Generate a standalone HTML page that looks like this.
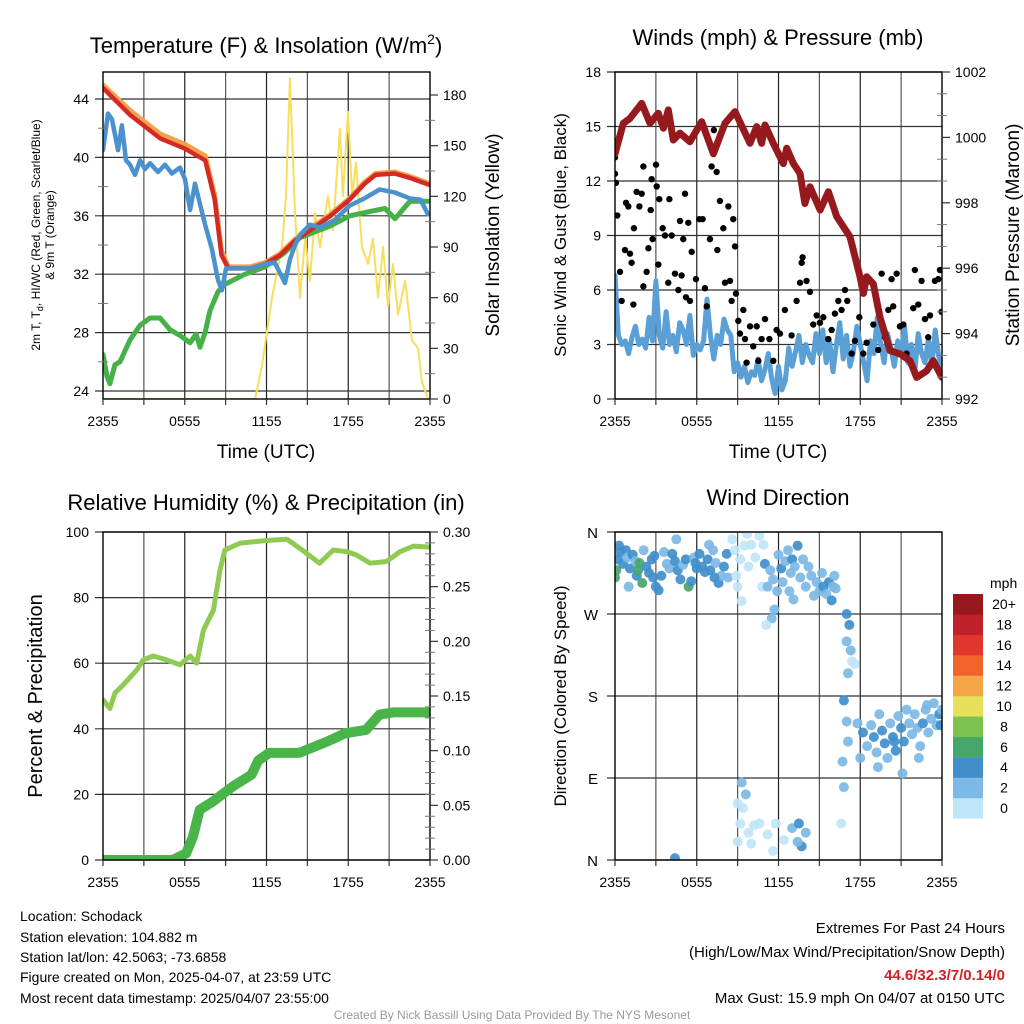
<!DOCTYPE html>
<html><head><meta charset="utf-8"><style>
body{margin:0;background:#fff;}
svg{display:block;font-family:"Liberation Sans",Arial,sans-serif;}
</style></head><body>
<svg id="chart" width="1024" height="1024" viewBox="0 0 1024 1024" xmlns="http://www.w3.org/2000/svg">
<rect width="1024" height="1024" fill="#fff"/>
<defs>
<clipPath id="c1"><rect x="103" y="72" width="327" height="327"/></clipPath>
<clipPath id="c2"><rect x="615" y="72" width="327" height="327"/></clipPath>
<clipPath id="c3"><rect x="103" y="532" width="327" height="328"/></clipPath>
<clipPath id="c4"><rect x="615" y="532" width="327" height="328"/></clipPath>
</defs>
<g id="grids"></g>
<g id="marks"></g>
<g id="axes"></g>
<g id="texts" font-size="14" fill="#000">
<text x="266" y="53" font-size="22" text-anchor="middle">Temperature (F) &amp; Insolation (W/m<tspan font-size="14" dy="-9">2</tspan><tspan dy="9">)</tspan></text>
<text x="778" y="45" font-size="22" text-anchor="middle">Winds (mph) &amp; Pressure (mb)</text>
<text x="266" y="510" font-size="22" text-anchor="middle">Relative Humidity (%) &amp; Precipitation (in)</text>
<text x="778" y="505" font-size="22" text-anchor="middle">Wind Direction</text>
<text x="266" y="458" font-size="19" text-anchor="middle">Time (UTC)</text>
<text x="778" y="458" font-size="19" text-anchor="middle">Time (UTC)</text>
<g transform="translate(40,235) rotate(-90)" font-size="12" text-anchor="middle">
<text x="0" y="0">2m T, T<tspan font-size="9" dy="3">d</tspan><tspan dy="-3">, HI/WC (Red, Green, Scarlet/Blue)</tspan></text>
<text x="0" y="14">&amp; 9m T (Orange)</text></g>
<text transform="translate(499,235) rotate(-90)" font-size="19" text-anchor="middle">Solar Insolation (Yellow)</text>
<text transform="translate(566,235) rotate(-90)" font-size="17" text-anchor="middle">Sonic Wind &amp; Gust (Blue, Black)</text>
<text transform="translate(1019,235) rotate(-90)" font-size="19" text-anchor="middle">Station Pressure (Maroon)</text>
<text transform="translate(42,696) rotate(-90)" font-size="20" text-anchor="middle">Percent &amp; Precipitation</text>
<text transform="translate(566,696) rotate(-90)" font-size="17" text-anchor="middle">Direction (Colored By Speed)</text>
<g font-size="14">
<text x="20" y="921">Location: Schodack</text>
<text x="20" y="942">Station elevation: 104.882 m</text>
<text x="20" y="962">Station lat/lon: 42.5063; -73.6858</text>
<text x="20" y="982">Figure created on Mon, 2025-04-07, at 23:59 UTC</text>
<text x="20" y="1003">Most recent data timestamp: 2025/04/07 23:55:00</text>
</g>
<g font-size="15" text-anchor="end">
<text x="1005" y="933">Extremes For Past 24 Hours</text>
<text x="1005" y="957">(High/Low/Max Wind/Precipitation/Snow Depth)</text>
<text x="1005" y="980" fill="#d42027" font-weight="bold">44.6/32.3/7/0.14/0</text>
<text x="1005" y="1003">Max Gust: 15.9 mph On 04/07 at 0150 UTC</text>
</g>
<text x="512" y="1019" font-size="12" fill="#999" text-anchor="middle">Created By Nick Bassill Using Data Provided By The NYS Mesonet</text>
<text x="990" y="588" font-size="14">mph</text>
</g>
</svg>
<script>
// ---------- data ----------
const xTickLabels = ["2355","0555","1155","1755","2355"];
const tempTicks = [24,28,32,36,40,44];
const solarTicks = [0,30,60,90,120,150,180];
const windTicks = [0,3,6,9,12,15,18];
const presTicks = [992,994,996,998,1000,1002];
const rhTicks = [0,20,40,60,80,100];
const precipTicks = ["0.00","0.05","0.10","0.15","0.20","0.25","0.30"];
const dirLabels = ["N","E","S","W","N"];
const speedBinLabels = ["0","2","4","6","8","10","12","14","16","18","20+"];

const redHours = [0,2,4.2,6,7.5,8.2,8.7,9.2,10.8,11.9,13,14.1,15.2,16.7,18.1,19.2,20,21.4,22.5,24];
const redTemp = [44.75,42.9,41.3,40.6,39.8,37.1,33.3,32.4,32.4,32.7,33.3,34.3,35,36,37.1,38.2,38.8,38.9,38.6,38.1];
const orangeTemp = [44.95,43.2,41.6,40.9,40.1,37.4,33.6,32.5,32.5,32.8,33.4,34.4,35.1,36.1,37.2,38.3,38.9,39.0,38.7,38.2];
const wcHours = [0,0.37,0.66,1.1,1.39,1.69,1.98,2.35,2.72,3.08,3.45,4.04,4.55,5.06,5.65,6.02,6.39,6.75,7.12,7.49,8.0,8.44,8.73,9.03,10.8,11.9,12.6,13.36,13.72,14.09,14.46,15.2,15.9,17.0,18.1,19.2,20.3,21.4,22.5,23.3,23.85];
const wcTemp = [40.5,43,42.6,40.5,42.2,39.8,39.5,38.8,39.8,39.2,39.6,39,39.5,38.9,39.3,38.5,36.4,38.2,36.8,35.4,33.7,31.6,30.9,32.4,32.4,32.7,32.8,31.4,33,34,34.7,35.4,35.2,35.7,36.7,37.2,37.8,37.6,37.2,37.1,36.1];
const dewHours = [0,0.29,0.51,0.88,1.25,1.98,2.72,3.45,4.18,4.55,4.92,5.65,6.39,6.83,7.12,7.49,7.85,8.44,8.95,10.42,11.89,13.36,14.46,16.66,18.13,19.6,20.7,21.43,22.53,23.85];
const dewTemp = [26.5,25.0,24.5,25.8,26.0,27.5,28.5,29.0,29.0,28.6,28.2,27.8,27.3,27.9,27.0,28.0,29.5,30.8,31.3,32.0,32.5,33.5,34.5,35.3,36.0,36.3,36.5,35.8,37.0,37.0];
const solarHours = [0,11.16,11.67,12.4,13.14,13.43,13.72,14.09,14.46,14.83,15.19,15.56,15.93,16.51,16.88,17.39,17.61,17.98,18.28,18.57,19.0,19.45,19.82,20.18,20.55,20.92,21.28,21.65,22.17,22.68,23.12,23.41,23.85];
const solarValues = [0,0,20,60,90,120,190,110,60,95,70,110,90,120,100,160,120,170,120,140,90,80,95,60,90,55,80,50,70,35,30,10,0];

const windSpeed = [6.8,3.5,3.0,3.2,2.5,3.4,4.0,3.0,3.3,2.8,4.5,3.2,6.5,3.5,2.8,4.8,3.0,3.5,2.6,4.2,3.8,3.0,4.6,2.4,3.0,2.7,3.2,5.5,3.5,2.2,3.5,3.0,4.4,3.8,
 3.5,1.5,2.0,1.2,1.8,0.9,1.5,1.3,2.2,1.0,1.6,2.5,1.1,0.3,1.8,0.5,1.0,2.8,1.8,2.6,3.5,2.0,3.0,2.4,2.0,3.6,
 2.5,3.8,2.0,3.2,1.5,3.0,4.2,2.2,3.5,1.8,2.6,4.0,3.0,2.0,1.0,3.2,2.5,4.5,3.0,2.0,3.6,2.8,1.8,3.2,2.4,4.0,2.0,3.0,1.5,3.6,2.5,2.0,3.3,1.8,3.8,2.4,1.6];
const windStepHours = 0.25;
const gustHours = [0,0,0.07,0.17,0.37,0.49,0.73,0.81,0.98,1.10,1.22,1.35,1.39,1.59,1.79,1.96,2.08,2.08,2.32,2.45,2.62,2.69,2.76,3.01,3.06,3.18,3.25,3.50,3.67,3.91,3.99,4.16,4.40,4.65,4.77,4.89,5.01,5.14,5.21,5.38,5.50,5.63,5.94,6.19,6.43,6.60,6.73,6.97,7.09,7.26,7.46,7.51,7.70,7.95,8.07,8.32,8.44,8.56,8.68,8.81,8.88,9.05,9.17,9.42,9.54,9.66,9.91,10.15,10.40,10.52,10.76,11.01,11.33,11.62,11.86,12.11,12.47,12.96,13.33,13.58,13.70,13.77,14.06,14.31,14.55,14.80,15.04,15.29,15.65,15.90,16.14,16.39,16.63,16.88,17.05,17.37,17.61,17.93,18.22,18.47,18.96,19.32,19.57,19.81,20.06,20.30,20.42,20.67,20.91,21.16,21.40,21.89,22.01,22.26,22.50,22.75,22.99,23.12,23.48,23.73,23.85,23.97];
const gustSpeed = [13.3,12.4,11.9,10.1,7.0,5.4,8.2,10.8,10.6,8.0,7.5,5.2,9.4,11.4,10.6,11.3,12.8,6.2,7.0,8.3,10.4,12.1,8.8,12.9,11.7,7.4,11.0,9.4,9.0,6.4,11.0,9.0,6.9,6.0,9.8,6.8,8.8,11.3,5.6,9.7,5.4,8.1,6.6,9.9,9.9,6.1,5.1,8.8,12.8,14.8,12.5,8.2,10.9,9.4,6.4,10.6,6.5,5.4,9.9,8.4,5.8,4.3,3.6,4.9,3.3,2.0,4.0,2.9,4.0,2.1,3.3,4.4,3.3,2.1,3.8,3.6,4.9,3.5,5.4,6.4,7.5,7.8,6.5,5.9,4.1,4.6,4.2,4.5,3.3,3.8,4.7,5.4,4.9,6.0,5.4,2.5,3.2,4.5,2.5,3.1,4.1,2.7,6.9,3.4,4.9,6.6,5.1,6.9,4.0,4.1,2.5,5.0,7.1,5.2,6.5,4.4,3.4,4.6,6.5,6.6,7.1,4.8];
const presHours = [0,0.61,1.1,1.96,2.57,3.18,3.55,3.91,4.28,4.77,5.5,6.36,7.22,8.07,8.81,9.91,10.4,10.76,11.01,11.62,12.35,12.6,13.09,13.58,13.94,14.31,15.05,15.66,16.27,17.25,17.98,18.23,18.47,18.96,19.45,20.18,20.92,21.65,22.14,22.87,23.36,24];
const presValues = [999.5,1000.43,1000.58,1001.04,1000.43,1000.74,1000.28,1000.84,999.92,1000.13,999.87,1000.48,999.5,1000.43,1000.79,999.82,1000.33,999.82,1000.38,999.82,999.2,999.67,999.2,998.9,997.98,998.49,997.78,998.34,997.58,996.96,995.74,995.23,995.74,995.52,994.5,993.48,993.38,993.17,992.66,992.86,993.17,992.66];

const rhHours = [0,0.51,0.88,1.49,2.47,2.96,3.69,4.67,5.65,6.39,6.88,7.37,8.1,8.59,8.95,10.05,12.0,13.5,14.46,15.9,16.9,17.9,18.6,19.6,20.8,21.8,22.8,24];
const rhValues = [48.8,46.2,50.9,53.4,57.9,61,62.2,61,59.5,62.2,60,70.1,76.2,88.4,94.5,96.6,97.4,97.8,95,90.5,94.5,94,93,90.5,91,94,95.7,95.4];
const precipHours = [0,5.1,6.1,6.6,7.1,8.0,9.5,10.9,11.4,12.2,14.4,16.4,17.8,19.3,20.3,21.3,24];
const precipValues = [0,0,0.006,0.021,0.046,0.053,0.067,0.078,0.091,0.098,0.098,0.108,0.116,0.119,0.133,0.135,0.135];

const dirHours = [0.0,0.1,0.2,0.4,0.6,0.8,0.9,1.1,1.3,1.5,1.6,1.7,1.8,2.0,2.1,2.3,2.5,2.7,2.9,3.0,3.2,3.4,3.6,3.8,4.0,4.2,4.4,4.6,4.8,5.0,5.2,5.4,5.6,5.8,6.0,6.2,6.4,6.6,6.8,7.0,7.2,7.4,7.6,7.8,8.0,8.2,8.3,0.3,1.0,2.8,4.5,5.9,6.9,7.3,
8.6,8.8,9.2,9.5,9.7,10.0,10.3,10.6,8.9,9.3,10.8,9.0,10.9,9.8,
11.0,11.2,11.4,11.6,11.7,11.9,12.0,12.2,12.3,12.5,12.7,12.9,13.0,13.2,13.4,13.6,13.8,14.0,14.2,14.4,14.6,14.8,15.0,15.2,15.3,15.5,15.7,15.9,11.5,11.1,16.0,16.1,16.2,13.1,12.8,
17.0,17.2,17.0,17.3,17.4,17.1,16.8,17.0,17.1,16.7,16.8,16.6,17.6,
17.8,18.2,18.5,18.8,19.0,19.2,19.4,19.6,19.8,20.0,20.2,20.4,20.6,20.8,21.0,21.2,21.4,21.6,21.8,22.0,22.2,22.4,22.6,22.8,23.0,23.2,23.4,23.6,23.8,24.0,21.1,22.3,19.3,20.5,23.9,18.0,22.9,
4.4,9.0,9.2,9.4,9.6,9.3,9.0,9.8,10.0,10.2,10.6,11.2,11.6,11.8,12.4,13.0,13.5,13.7,14.0,13.4];
const dirDegrees = [310,318,330,338,325,340,332,320,335,328,312,318,326,304,340,322,315,330,334,300,296,312,338,325,320,336,328,318,308,324,330,300,306,332,320,336,322,316,330,318,340,326,304,312,322,336,310,345,300,310,352,326,346,310,
352,340,330,345,358,346,332,356,312,284,300,300,346,322,
325,300,318,308,275,295,335,320,305,328,340,315,330,322,345,310,330,300,322,312,290,305,295,315,300,292,305,285,265,258,300,312,298,286,295,
270,258,240,230,218,205,175,152,130,108,80,40,215,
150,140,125,148,135,118,160,142,128,112,150,135,120,158,145,130,165,150,138,160,145,125,150,165,140,155,172,148,160,165,95,112,102,130,148,112,170,
2,20,40,57,72,85,62,30,18,38,40,28,10,40,22,35,40,15,30,20];
const dirSpeed = [6,6,5,4,4,5,3,4,5,3,4,6,6,6,3,4,5,5,4,5,5,4,3,3,3,5,4,4,5,3,4,6,5,3,4,4,5,5,4,5,3,3,4,3,4,5,3,4,3,4,3,5,3,5,
1,1,1,1,1,1,1,1,1,1,1,1,1,1,
4,3,3,3,3,3,3,4,3,3,3,3,4,3,4,3,3,3,3,3,3,3,3,3,4,3,5,5,2,1,2,2,2,3,3,
4,4,3,2,1,2,4,3,3,3,2,1,1,
3,4,3,3,4,3,3,4,4,3,3,4,4,3,4,4,3,3,3,3,3,3,4,3,3,3,3,3,4,3,3,3,3,5,4,2,3,
4,1,1,1,2,2,1,1,1,1,1,1,1,1,1,2,4,4,2,3];
const speedColors = ["#bfe5f8","#7cb9e5","#408fcb","#46a66a","#7bc24f","#e7e05c","#f6a646","#f0642b","#e0362b","#c0202a","#961a1d"];

// ---------- helpers ----------
const NS = "http://www.w3.org/2000/svg";
const grids = document.getElementById('grids');
const marks = document.getElementById('marks');
const axes = document.getElementById('axes');
function mk(tag, attrs, parent){ const e=document.createElementNS(NS,tag); for(const k in attrs) e.setAttribute(k,attrs[k]); parent.appendChild(e); return e; }
function lin(d0,d1,r0,r1){ return v => r0 + (v-d0)/(d1-d0)*(r1-r0); }
function pathD(xs, ys, fx, fy){ return xs.map((h,i)=>(i?'L':'M')+fx(h).toFixed(1)+','+fy(ys[i]).toFixed(1)).join(''); }

const panels = [
 {x:103,y:72,w:327,h:327},{x:615,y:72,w:327,h:327},
 {x:103,y:532,w:327,h:328},{x:615,y:532,w:327,h:328}];
const X = panels.map(p => lin(0,24,p.x,p.x+p.w));

const yT = lin(24,44,391,99);
const yS = lin(0,180,399,95);
const yW = lin(0,18,399,72);
const yP = lin(992,1002,399,72);
const yRH = lin(0,100,860,532);
const yPr = lin(0,0.3,860,532);
const yD = lin(0,360,860,532);

panels.forEach((p,pi)=>{
  const g = mk('g',{},grids);
  
  
  for(let k=1;k<8;k++){ const x=p.x+p.w*k/8; mk('line',{x1:x,y1:p.y,x2:x,y2:p.y+p.h,stroke:(k%2?'#555':'#222'),'stroke-width':1.2},g); }
  const a = mk('g',{},axes);
  
  
  mk('rect',{x:p.x,y:p.y,width:p.w,height:p.h,fill:'none',stroke:'#000','stroke-width':1.4},a);
  for(let k=0;k<=8;k++){ const x=p.x+p.w*k/8; mk('line',{x1:x,y1:p.y+p.h,x2:x,y2:p.y+p.h+6,stroke:'#333','stroke-width':1.2},a); }
  xTickLabels.forEach((t,i)=>{
    const tx = mk('text',{x:X[pi](i*6),y:p.y+p.h+27,'font-size':14,'text-anchor':'middle'},a);
    
    
    tx.textContent=t;
  });
});
function hgrid(p, vals, fy, color){ vals.forEach(v=>{ mk('line',{x1:p.x-8,y1:fy(v),x2:p.x+p.w,y2:fy(v),stroke:color||'#333','stroke-width':1.2},grids); }); }
function leftLabels(p, vals, fy, dx){ vals.forEach(v=>{ const t=mk('text',{x:p.x-(dx||14),y:fy(v)+5,'font-size':14,'text-anchor':'end'},axes);
  
  
  t.textContent=v; }); }
function rightAxis(p, vals, fy, labels, minorPer){ vals.forEach((v,i)=>{ mk('line',{x1:p.x+p.w,y1:fy(v),x2:p.x+p.w+8,y2:fy(v),stroke:'#333','stroke-width':1.2},axes);
  const t=mk('text',{x:p.x+p.w+13,y:fy(v)+5,'font-size':14},axes);
  
  
  t.textContent=labels?labels[i]:v;
  if(i<vals.length-1){ for(let m=1;m<minorPer;m++){ const yy=fy(v)+(fy(vals[i+1])-fy(v))*m/minorPer; mk('line',{x1:p.x+p.w-5,y1:yy,x2:p.x+p.w+5,y2:yy,stroke:'#777','stroke-width':1},axes);} } }); }

hgrid(panels[0], tempTicks, yT);
leftLabels(panels[0], tempTicks, yT);
tempTicks.slice(0,-1).forEach(v=>mk('line',{x1:98,y1:yT(v+2),x2:108,y2:yT(v+2),stroke:'#777'},axes));
rightAxis(panels[0], solarTicks, yS, null, 2);
hgrid(panels[1], windTicks, yW);
leftLabels(panels[1], windTicks, yW);
rightAxis(panels[1], presTicks, yP, null, 3);
hgrid(panels[2], rhTicks, yRH);
leftLabels(panels[2], rhTicks, yRH);
rightAxis(panels[2], [0,0.05,0.1,0.15,0.2,0.25,0.3], yPr, precipTicks, 5);
hgrid(panels[3], [0,90,180,270,360], yD);
[0,90,180,270,360].forEach((v,i)=>{ const t=mk('text',{x:598,y:yD(v)+6,'font-size':15,'text-anchor':'end'},axes);
  
  
  t.textContent=dirLabels[i]; });

function series(name, clip, xs, ys, fx, fy, color, w){
  const e = mk('path',{d:pathD(xs,ys,fx,fy),fill:'none',stroke:color,'stroke-width':w,'stroke-linejoin':'round','stroke-linecap':'round','clip-path':'url(#'+clip+')'},marks);
  
  
}
series('solar-line','c1',solarHours,solarValues,X[0],yS,'#f7df5c',2);
series('dewpoint-line','c1',dewHours,dewTemp,X[0],yT,'#46b147',5);
series('temp-9m-line','c1',redHours,orangeTemp,X[0],yT,'#f5a04a',5);
series('temp-2m-line','c1',redHours,redTemp,X[0],yT,'#d42a26',4.5);
series('windchill-line','c1',wcHours,wcTemp,X[0],yT,'#4a92cd',4.5);

const windHours = windSpeed.map((v,i)=>i*windStepHours);
series('wind-speed-line','c2',windHours,windSpeed,X[1],yW,'#5aa0d6',5);
const gg = mk('g',{'clip-path':'url(#c2)'},marks);


gustHours.forEach((h,i)=>{ const c=mk('circle',{cx:X[1](h),cy:yW(gustSpeed[i]),r:3.2,fill:'#000'},gg);
  
   });
series('pressure-line','c2',presHours,presValues,X[1],yP,'#961a1d',7);

series('rh-line','c3',rhHours,rhValues,X[2],yRH,'#8fcb52',5);
series('precip-line','c3',precipHours,precipValues,X[2],yPr,'#49b549',10);

const dg = mk('g',{'clip-path':'url(#c4)'},marks);


dirHours.forEach((h,i)=>{ const bin=Math.min(10,Math.floor(dirSpeed[i]/2));
  const c=mk('circle',{cx:X[3](h),cy:yD(dirDegrees[i]),r:5,fill:speedColors[bin],'fill-opacity':0.92},dg);
  
   });

const cb = mk('g',{},axes);


speedBinLabels.forEach((lab,i)=>{ const y=594+(10-i)*20.4;
  const r=mk('rect',{x:953,y:y,width:30,height:20.6,fill:speedColors[i]},cb);
  
  
  const t=mk('text',{x:1004,y:y+15,'font-size':14,'text-anchor':'middle'},cb);
  
  
  t.textContent=lab; });
</script>
</body></html>
